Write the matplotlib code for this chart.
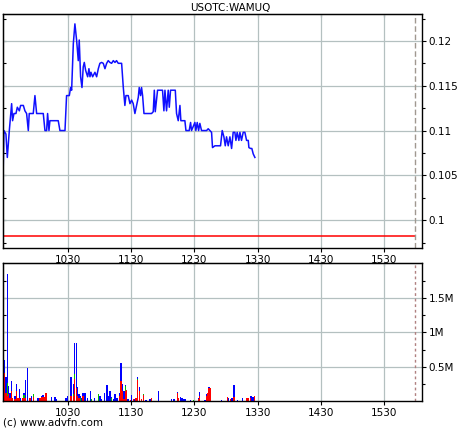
import matplotlib
matplotlib.use("Agg")
import matplotlib.pyplot as plt
import numpy as np

# price trace, minutes after 09:30 and price
price_t = [-1.5, -0.7, 1.2, 2.5, 4.4, 6.6, 7.5, 8.8, 10.7, 12.0, 13.9, 15.1, 17.7, 19.2,
           20.8, 22.4, 23.3, 27.1, 28.7, 30.3, 36.6, 38.2, 39.8, 40.7, 42.0, 42.9, 50.8,
           52.4, 57.2, 58.7, 61.3, 62.5, 63.5, 65.1, 66.6, 68.2, 69.8, 70.7, 72.0, 73.3,
           74.5, 75.5, 76.8, 78.7, 79.9, 80.9, 81.8, 83.4, 85.6, 87.2, 88.8, 90.3, 91.9,
           93.5, 95.1, 96.7, 98.2, 99.8, 101.4, 103.0, 104.6, 106.1, 107.7, 110.9, 112.5,
           114.0, 115.0, 117.2, 118.8, 120.4, 121.9, 123.5, 125.1, 126.7, 127.6, 128.9,
           129.8, 130.8, 132.1, 139.3, 140.9, 141.9, 142.8, 145.0, 149.7, 151.0, 152.0,
           153.5, 155.1, 156.1, 157.3, 161.8, 163.0, 164.6, 166.2, 167.1, 170.9, 171.9,
           175.0, 176.3, 177.2, 180.4, 181.3, 182.6, 183.9, 185.1, 186.7, 191.5, 193.0,
           196.2, 197.1, 199.4, 204.7, 206.3, 207.9, 209.2, 210.4, 212.0, 213.6, 215.2,
           216.7, 218.3, 219.3, 220.5, 222.1, 223.1, 224.6, 226.2, 227.8, 229.4, 231.0,
           231.6, 233.2, 234.4, 235.7, 237.3]
price = [0.1052, 0.1100, 0.1096, 0.1070, 0.1100, 0.1130, 0.1111, 0.1119, 0.1119, 0.1126,
         0.1122, 0.1128, 0.1128, 0.1122, 0.1119, 0.1100, 0.1119, 0.1119, 0.1139, 0.1119,
         0.1119, 0.1100, 0.1100, 0.1119, 0.1100, 0.1111, 0.1111, 0.1100, 0.1100, 0.1139,
         0.1139, 0.1148, 0.1145, 0.1197, 0.1219, 0.1201, 0.1178, 0.1201, 0.1160, 0.1148,
         0.1171, 0.1176, 0.1167, 0.1160, 0.1169, 0.1160, 0.1165, 0.1160, 0.1165, 0.1160,
         0.1169, 0.1175, 0.1176, 0.1175, 0.1169, 0.1175, 0.1178, 0.1176, 0.1175, 0.1178,
         0.1176, 0.1178, 0.1175, 0.1175, 0.1148, 0.1128, 0.1139, 0.1139, 0.1130, 0.1134,
         0.1130, 0.1119, 0.1128, 0.1137, 0.1148, 0.1139, 0.1148, 0.1139, 0.1119, 0.1119,
         0.1121, 0.1145, 0.1121, 0.1145, 0.1145, 0.1122, 0.1145, 0.1122, 0.1145, 0.1126,
         0.1145, 0.1145, 0.1119, 0.1111, 0.1128, 0.1111, 0.1111, 0.1100, 0.1100, 0.1109,
         0.1100, 0.1109, 0.1100, 0.1109, 0.1100, 0.1108, 0.1100, 0.1100, 0.1102, 0.1098,
         0.1081, 0.1083, 0.1083, 0.1100, 0.1093, 0.1083, 0.1093, 0.1083, 0.1093, 0.1080,
         0.1098, 0.1098, 0.1089, 0.1098, 0.1089, 0.1098, 0.1089, 0.1098, 0.1098, 0.1089,
         0.1089, 0.1081, 0.1080, 0.1080, 0.1074, 0.1070]
prev_close = 0.0982

# volume bars (thousands of shares), stacked red / green / blue
vol_t = [-0.5, 1.2, 2.5, 3.8, 5.0, 6.3, 7.6, 9.8, 11.4, 12.6, 13.8, 15.2, 17.1, 18.3, 19.5,
         21.4, 24.0, 25.2, 27.1, 31.6, 33.5, 34.7, 36.3, 37.5, 39.1, 44.5, 47.7, 49.3, 58.1,
         59.7, 62.8, 65.0, 66.0, 67.9, 69.2, 70.4, 71.7, 73.0, 74.2, 76.1, 78.7, 81.1, 82.5,
         84.9, 88.7, 90.3, 91.9, 94.4, 97.0, 98.2, 99.8, 101.4, 103.3, 104.6, 106.5, 108.6,
         110.2, 111.8, 113.1, 114.3, 115.6, 116.9, 119.4, 120.4, 121.9, 123.2, 124.5, 125.7,
         127.6, 129.5, 132.0, 133.9, 137.7, 139.0, 146.0, 157.9, 160.5, 163.6, 164.9, 166.8,
         168.1, 170.0, 171.6, 176.3, 178.8, 183.9, 185.1, 189.9, 191.5, 192.4, 193.7, 194.6,
         205.7, 211.4, 212.0, 214.5, 215.7, 217.6, 220.9, 225.2, 229.7, 230.9, 232.8, 234.1,
         235.6, 237.2]
vol_red = [412, 118, 74, 103, 44, 147, 44, 30, 147, 44, 44, 0, 44, 44, 44,
           0, 44, 0, 59, 0, 44, 59, 59, 59, 118, 0, 0, 0, 0,
           0, 74, 74, 323, 196, 74, 49, 0, 0, 74, 0, 0, 0, 0,
           0, 0, 0, 0, 0, 0, 0, 0, 0, 0, 0, 0, 74,
           294, 147, 25, 147, 157, 0, 15, 0, 25, 0, 49, 304,
           147, 25, 88, 0, 0, 49, 0, 0, 0, 122, 49, 0,
           0, 0, 0, 0, 0, 30, 74, 0, 74, 122, 187, 187,
           0, 59, 0, 25, 0, 59, 0, 0, 49, 40, 49, 0,
           0, 69]
vol_green = [0, 0, 191, 0, 0, 0, 0, 0, 0, 0, 0, 0, 0, 44, 0,
             0, 0, 0, 44, 0, 0, 0, 0, 0, 0, 0, 0, 0, 0,
             0, 0, 30, 74, 0, 0, 0, 49, 0, 0, 0, 0, 0, 25,
             0, 98, 0, 0, 0, 0, 0, 0, 49, 0, 0, 0, 0,
             0, 0, 0, 74, 0, 0, 0, 0, 0, 0, 0, 20,
             0, 0, 19, 0, 0, 0, 0, 0, 0, 0, 0, 0,
             0, 0, 0, 0, 15, 0, 0, 0, 0, 0, 5, 0,
             0, 0, 0, 0, 0, 0, 0, 0, 0, 0, 0, 0,
             0, 0]
vol_blue = [191, 235, 1588, 118, 74, 147, 0, 44, 103, 0, 132, 44, 0, 30, 265,
            485, 0, 74, 0, 44, 0, 15, 30, 0, 0, 59, 59, 30, 49,
            74, 269, 147, 445, 646, 132, 49, 25, 49, 48, 122, 49, 147, 0,
            49, 10, 74, 25, 122, 235, 74, 147, 10, 25, 98, 49, 48,
            265, 103, 122, 10, 5, 25, 0, 88, 0, 34, 0, 19,
            59, 0, 0, 10, 25, 0, 147, 25, 25, 15, 0, 59,
            49, 25, 25, 15, 0, 19, 63, 15, 24, 0, 5, 9,
            15, 0, 40, 0, 49, 176, 15, 49, 0, 0, 20, 69,
            59, 0]

hour_ticks = [60, 120, 180, 240, 300, 360]
hour_labels = ['1030', '1130', '1230', '1330', '1430', '1530']
price_ticks = [0.1, 0.105, 0.11, 0.115, 0.12]
price_labels = ['0.1', '0.105', '0.11', '0.115', '0.12']
vol_ticks = [500, 1000, 1500]
vol_labels = ['0.5M', '1M', '1.5M']
close_t = 389

grid_col = '#b4c0c0'
fs = 7.5

fig = plt.figure(figsize=(4.6, 4.3), dpi=100)
ax1 = fig.add_axes([0.0065, 0.4233, 0.9105, 0.5441])
ax2 = fig.add_axes([0.0065, 0.0674, 0.9105, 0.3210])

# price panel
ax1.plot(price_t, price, color='#1010ff', lw=1.1)
ax1.axhline(prev_close, xmax=(close_t + 1.6) / (395.6 + 1.6), color='#ff0000', lw=1.1)
ax1.set_ylim(0.0969, 0.1230)
ax1.set_yticks(price_ticks)
ax1.set_yticklabels(price_labels)
ax1.set_yticks(np.arange(0.0975, 0.1230, 0.0025), minor=True)

# volume panel
vol_red = np.array(vol_red)
vol_green = np.array(vol_green)
vol_blue = np.array(vol_blue)
ax2.bar(vol_t, vol_red, width=1.2, color='#ff0000', linewidth=0)
ax2.bar(vol_t, vol_green, width=1.2, bottom=vol_red, color='#00c000', linewidth=0)
ax2.bar(vol_t, vol_blue, width=1.2, bottom=vol_red + vol_green, color='#0000ff', linewidth=0)
ax2.set_ylim(0, 2010)
ax2.set_yticks(vol_ticks)
ax2.set_yticklabels(vol_labels)
ax2.set_yticks(np.arange(250, 2000, 250), minor=True)

for ax, ls, c in [(ax1, (0, (4, 2)), '#a09890'), (ax2, (0, (2, 2)), '#b08080')]:
    ax.set_xlim(-1.6, 395.6)
    ax.set_xticks(hour_ticks)
    ax.set_xticklabels(hour_labels)
    ax.grid(True, which='major', color=grid_col, lw=0.9)
    ax.set_axisbelow(True)
    ax.axvline(close_t, color=c, lw=1, ls=ls)
    ax.yaxis.tick_right()
    ax.tick_params(axis='both', which='major', labelsize=fs, length=3, width=0.8, pad=2,
                   direction='out')
    ax.tick_params(axis='y', which='minor', length=2, width=0.8)
    for sp in ax.spines.values():
        sp.set_linewidth(1.0)
        sp.set_color('black')

    # inward marks on the left and top edges
    left = ax.secondary_yaxis('left')
    left.set_yticks(ax.get_yticks())
    left.set_yticks(ax.get_yticks(minor=True), minor=True)
    left.tick_params(which='both', direction='in', length=2, width=0.8, labelleft=False)
    top = ax.secondary_xaxis('top')
    top.set_xticks(hour_ticks)
    top.tick_params(direction='in', length=2, width=0.8, labeltop=False)

fig.text(0.5, 0.982, 'USOTC:WAMUQ', ha='center', va='center', fontsize=fs)
fig.text(0.006, 0.018, '(c) www.advfn.com', ha='left', va='center', fontsize=fs)

fig.savefig('out.png', dpi=100)
